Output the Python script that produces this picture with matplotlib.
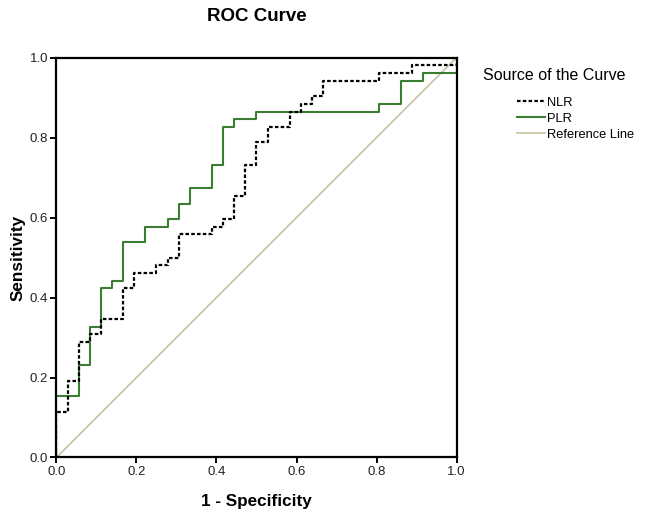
import matplotlib
matplotlib.use('Agg')
import matplotlib.pyplot as plt

plt.rcParams['font.family'] = ['Liberation Sans', 'DejaVu Sans']

# ROC points (1 - specificity, sensitivity)
nlr_fpr = [0, 0, 0.028, 0.056, 0.083, 0.111, 0.167, 0.194, 0.250, 0.278, 0.306,
           0.389, 0.417, 0.444, 0.472, 0.500, 0.528, 0.583, 0.611, 0.639, 0.667,
           0.806, 0.889, 1.0]
nlr_tpr = [0, 0.115, 0.192, 0.288, 0.308, 0.346, 0.423, 0.462, 0.481, 0.500, 0.558,
           0.577, 0.596, 0.654, 0.731, 0.788, 0.827, 0.865, 0.885, 0.904, 0.942,
           0.962, 0.981, 1.0]

plr_fpr = [0, 0, 0.056, 0.083, 0.111, 0.139, 0.167, 0.222, 0.278, 0.306, 0.333,
           0.389, 0.417, 0.444, 0.500, 0.806, 0.861, 0.917, 1.0]
plr_tpr = [0, 0.154, 0.231, 0.327, 0.423, 0.442, 0.538, 0.577, 0.596, 0.635, 0.673,
           0.731, 0.827, 0.846, 0.865, 0.885, 0.942, 0.962, 1.0]

ref_x = [0, 1]
ref_y = [0, 1]

ticks = [0.0, 0.2, 0.4, 0.6, 0.8, 1.0]
tick_labels = ['0.0', '0.2', '0.4', '0.6', '0.8', '1.0']

fig = plt.figure(figsize=(6.53, 5.18), dpi=100)
ax = fig.add_axes([0.0865, 0.1168, 0.6126, 0.772])

ax.plot(ref_x, ref_y, color='#c8c2a2', lw=1.2, label='Reference Line', zorder=1)
ax.plot(plr_fpr, plr_tpr, drawstyle='steps-post', color='#3b7d32', lw=1.5,
        label='PLR', zorder=2)
ax.plot(nlr_fpr, nlr_tpr, drawstyle='steps-post', color='black', lw=1.6,
        linestyle=(0, (1.6, 1.0)), label='NLR', zorder=3)

ax.set_xlim(0, 1)
ax.set_ylim(0, 1)
ax.set_xticks(ticks)
ax.set_xticklabels(tick_labels)
ax.set_yticks(ticks)
ax.set_yticklabels(tick_labels)
ax.tick_params(direction='out', length=4, width=1.4, labelsize=9.5, pad=2,
               colors='black', labelcolor='#222222')
for sp in ax.spines.values():
    sp.set_linewidth(1.6)

ax.set_title('ROC Curve', fontsize=13.5, fontweight='bold', pad=26)
ax.set_xlabel('1 - Specificity', fontsize=12.3, fontweight='bold', labelpad=12)
ax.set_ylabel('Sensitivity', fontsize=12.3, fontweight='bold', labelpad=3)

handles, labels = ax.get_legend_handles_labels()
order = [2, 1, 0]
fig.legend([handles[i] for i in order], [labels[i] for i in order],
           loc='upper left', bbox_to_anchor=(0.791, 0.813), frameon=False,
           borderaxespad=0, borderpad=0, fontsize=9.3, handlelength=2.2,
           handletextpad=0.15, labelspacing=0.3)
fig.text(0.740, 0.855, 'Source of the Curve', fontsize=11.5, va='center')

fig.savefig('out.png', dpi=100)
